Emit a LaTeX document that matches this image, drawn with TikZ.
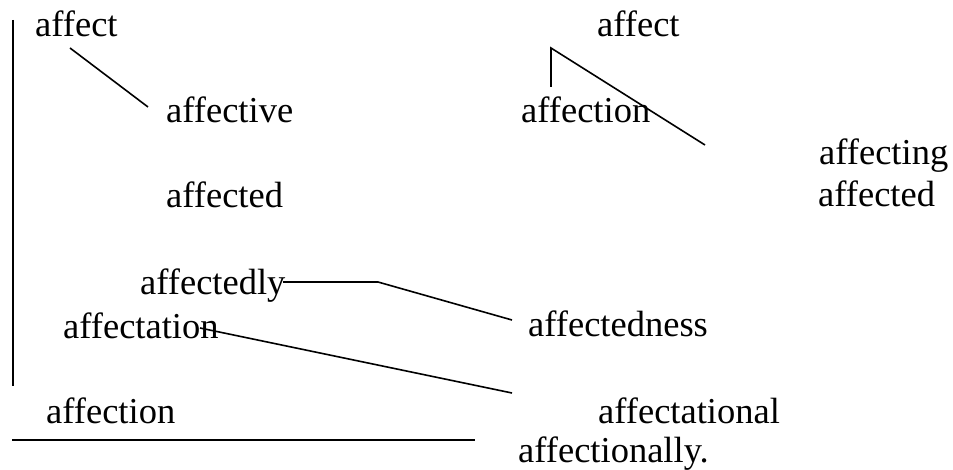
\documentclass[tikz,border=0pt]{standalone}
\usepackage{fontspec}
\setmainfont{Liberation Serif}
\usetikzlibrary{positioning}

\begin{document}
\begin{tikzpicture}[x=1pt, y=-1pt,
  word/.style={anchor=base west, inner sep=0pt, font={\fontsize{36.5}{40}\selectfont}},
  link/.style={line width=1.6pt}
]
\useasboundingbox (0,0) rectangle (953,470);
% left column
\node[word] (a0) at (35,37) {affect};
\node[word] (a1) at (166,123) {affective};
\node[word] (a2) at (166,208) {affected};
\node[word] (a3) at (140,295) {affectedly};
\node[word] (a4) at (63,338) {affectation};
\node[word] (a5) at (46,423) {affection};
% right column
\node[word] (b0) at (597,37) {affect};
\node[word] (b1) at (521,123) {affection};
\node[word] (b2) at (819,165) {affecting};
\node[word] (b3) at (818,207) {affected};
\node[word] (b4) at (528,337) {affectedness};
\node[word] (b5) at (598,423) {affectational};
\node[word] (b6) at (518,462) {affectionally.};
% free ends of the links
\coordinate (p0) at (70,48);
\coordinate (p1) at (148,107);
\coordinate (p2) at (13,20);
\coordinate (p3) at (13,386);
\coordinate (p4) at (12,440);
\coordinate (p5) at (475,440);
\coordinate (p6) at (283,282);
\coordinate (p7) at (378,282);
\coordinate (p8) at (512,320);
\coordinate (p9) at (200,328);
\coordinate (p10) at (512,393);
\coordinate (q0) at (551,87);
\coordinate (q1) at (551,48);
\coordinate (q2) at (705,145);
\draw[link] (p0) -- (p1);
\draw[link] (p2) -- (p3);
\draw[link] (p4) -- (p5);
\draw[link] (p6) -- (p7) -- (p8);
\draw[link] (p9) -- (p10);
\draw[link] (q0) -- (q1) -- (q2);
\end{tikzpicture}
\end{document}
